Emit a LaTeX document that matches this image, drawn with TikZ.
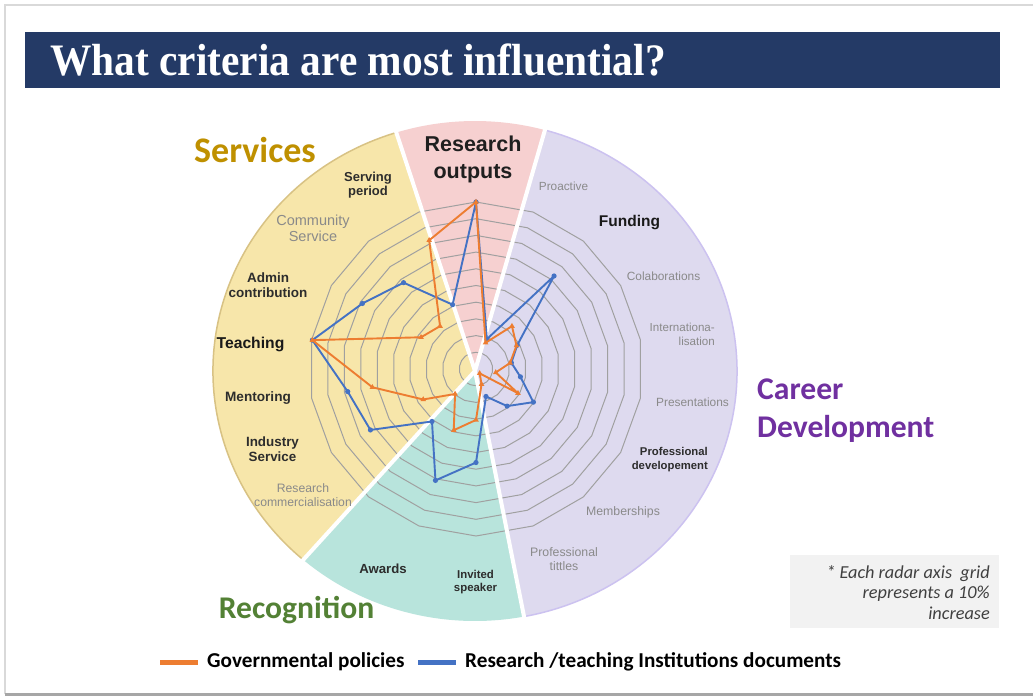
\documentclass[tikz,border=0pt]{standalone}
\usepackage{fontspec}
\usepackage{graphicx}
\usetikzlibrary{shapes.geometric}
\newfontfamily\labf{Liberation Sans}
\newfontfamily\calf{Carlito}
\newfontfamily\serf{Liberation Serif}
\definecolor{navy}{RGB}{36,58,102}
\definecolor{yelf}{RGB}{247,230,170}
\definecolor{yelo}{RGB}{216,194,132}
\definecolor{pinkf}{RGB}{246,208,208}
\definecolor{purf}{RGB}{222,218,239}
\definecolor{puro}{RGB}{204,194,240}
\definecolor{grnf}{RGB}{184,228,220}
\definecolor{gridc}{RGB}{160,160,160}
\definecolor{orc}{RGB}{237,125,49}
\definecolor{blc}{RGB}{68,114,196}
\definecolor{labdark}{RGB}{45,45,45}
\definecolor{labgrey}{RGB}{138,138,138}
\definecolor{gold}{RGB}{191,144,0}
\definecolor{cpurple}{RGB}{112,48,160}
\definecolor{cgreen}{RGB}{83,129,53}
\definecolor{notebg}{RGB}{242,242,242}
\definecolor{notetx}{RGB}{64,64,64}
\newcommand{\fsz}[2]{\fontsize{#1}{#2}\selectfont}
\begin{document}
\begin{tikzpicture}[x=1pt,y=-1pt,
  lb/.style={inner sep=0, align=center, text=labdark},
  lg/.style={inner sep=0, align=center, text=labgrey},
  sect/.style={inner sep=0, align=left, font=\calf\bfseries\fsz{31.6}{38}},
  gridl/.style={draw=gridc, line width=1},
  oline/.style={draw=orc, line width=1.9, line join=round},
  bline/.style={draw=blc, line width=1.9, line join=round},
  omark/.style={regular polygon, regular polygon sides=3, fill=orc, inner sep=0, minimum size=6.5},
  bmark/.style={circle, fill=blc, inner sep=0, minimum size=5.2},
  sep/.style={draw=white, line width=4},
]
\useasboundingbox (0,0) rectangle (1033,698);
\fill[white] (0,0) rectangle (1033,698);
% slide frame
\draw[gray!30, line width=1.2] (5,694) -- (5,5) -- (1033,5);
\draw[gray!70, line width=3] (5,694.5) -- (1033,694.5);
% title
\node[fill=navy, minimum width=975, minimum height=56, inner sep=0] (bar) at (512.5,60) {};
\node[anchor=base west, inner sep=0, text=white, font=\serf\bfseries\fsz{45}{45}] (title) at (50,76)
  {\scalebox{0.92}[1]{What criteria are most influential?}};
% sectors
\begin{scope}[shift={(475,371)}, yscale=-1]
  \fill[yelf] (0,0) -- (107.5:262 and 250) arc[start angle=107.5, end angle=229, x radius=262, y radius=250] -- cycle;
  \draw[yelo, line width=1.5] (107.5:262 and 250) arc[start angle=107.5, end angle=229, x radius=262, y radius=250];
  \fill[pinkf] (0,0) -- (74.5:262 and 250) arc[start angle=74.5, end angle=107.5, x radius=262, y radius=250] -- cycle;
  \fill[grnf] (0,0) -- (229:262 and 250) arc[start angle=229, end angle=280.8, x radius=262, y radius=250] -- cycle;
  \fill[purf] (0,0) -- (-79.2:262 and 250) arc[start angle=-79.2, end angle=74.5, x radius=262, y radius=250] -- cycle;
  \draw[puro, line width=1.5] (-79.2:262 and 250) arc[start angle=-79.2, end angle=74.5, x radius=262, y radius=250];
\end{scope}
% radar grid
\begin{scope}[shift={(476,369)}, yscale=-1]
  \foreach \k in {1,...,10} {
    \draw[gridl] (90:{\k*16.7}) \foreach \j in {1,...,17} { -- ({90-20*\j}:{\k*16.7}) } -- cycle;
  }
\end{scope}
% white separators
\begin{scope}[shift={(475,371)}, yscale=-1]
  \coordinate (sc) at (0,0);
  \coordinate (s1) at (107.5:270 and 258);
  \coordinate (s2) at (74.5:270 and 258);
  \coordinate (s3) at (-79.2:270 and 258);
  \coordinate (s4) at (229:270 and 258);
  \foreach \s in {s1,s2,s3,s4} \draw[sep] (sc) -- (\s);
\end{scope}
% data
\begin{scope}[shift={(476,369)}, yscale=-1]
  \foreach \v [count=\i from 0] in {10,1.9,7.27,2.85,2.15,2.7,3.97,2.9,1.75,5.6,7.1,4.1,7.3,7.8,9.95,7.85,6.75,4.1}
    \coordinate (b\i) at ({90-20*\i}:{\v*16.7});
  \foreach \v [count=\i from 0] in {10,1.67,3.35,2.8,2.07,1.2,2.9,0.34,0.97,3.05,3.9,1.95,3.65,6.3,9.95,3.8,3.35,8.2}
    \coordinate (o\i) at ({90-20*\i}:{\v*16.7});
  \draw[bline] (b0) \foreach \i in {1,...,17} { -- (b\i) } -- cycle;
  \foreach \i in {0,...,17} \node[bmark] (bm\i) at (b\i) {};
  \draw[oline] (o0) \foreach \i in {1,...,17} { -- (o\i) } -- cycle;
  \foreach \i in {0,...,17} \node[omark] (om\i) at (o\i) {};
\end{scope}
% axis labels
\node[inner sep=0, align=center, text=black!88, font=\labf\bfseries\fsz{21.5}{27}] (lres) at (473,159) {Research\\outputs};
\node[lb, font=\labf\bfseries\fsz{13}{14}] (lserv) at (368,185) {Serving\\period};
\node[lg, font=\labf\fsz{14.5}{16}] (lcomm) at (313,228) {Community\\Service};
\node[lb, font=\labf\bfseries\fsz{13.5}{15}] (ladmin) at (268,285.5) {Admin\\contribution};
\node[lb, text=black!90, font=\labf\bfseries\fsz{15.7}{18}] (lteach) at (250.5,344) {Teaching};
\node[lb, font=\labf\bfseries\fsz{13.6}{15}] (lment) at (258,398) {Mentoring};
\node[lb, font=\labf\bfseries\fsz{13.4}{15}] (lind) at (272.5,449.5) {Industry\\Service};
\node[lg, font=\labf\fsz{12.2}{14}] (lrc) at (303,495) {Research\\commercialisation};
\node[lb, font=\labf\bfseries\fsz{13.2}{15}] (lawd) at (383,569) {Awards};
\node[lb, font=\labf\bfseries\fsz{11.4}{13}] (linv) at (475.5,582.5) {Invited\\speaker};
\node[lg, font=\labf\fsz{12.3}{14}] (lpt) at (564,559) {Professional\\tittles};
\node[lg, font=\labf\fsz{12.3}{14}] (lmem) at (623,512) {Memberships};
\node[lb, align=right, anchor=east, font=\labf\bfseries\fsz{11.3}{14}] (lpd) at (708,460) {Professional\\developement};
\node[lg, font=\labf\fsz{11.9}{14}] (lpres) at (692.5,402) {Presentations};
\node[lg, align=right, anchor=east, font=\labf\fsz{11.6}{14}] (lint) at (715,334) {Internationa-\\lisation};
\node[lg, font=\labf\fsz{11.9}{14}] (lcol) at (663.5,276) {Colaborations};
\node[lb, text=black!90, font=\labf\bfseries\fsz{15.5}{18}] (lfund) at (629.5,223) {Funding};
\node[lg, font=\labf\fsz{11.8}{14}] (lpro) at (563.5,186) {Proactive};
% section labels
\node[sect, text=gold, font=\calf\bfseries\fsz{36}{40}] (cserv) at (255,150) {Services};
\node[sect, text=cpurple, anchor=west] (ccar) at (757,411) {Career\\Development};
\node[sect, text=cgreen] (crec) at (296.5,610) {Recognition};
% legend
\coordinate (lo1) at (160,662); \coordinate (lo2) at (198,662);
\coordinate (lb1) at (418,662); \coordinate (lb2) at (456,662);
\draw[orc, line width=5] (lo1) -- (lo2);
\draw[blc, line width=5] (lb1) -- (lb2);
\node[anchor=west, inner sep=0, font=\calf\bfseries\fsz{21.2}{25}] (lgov) at (207,662) {Governmental policies};
\node[anchor=west, inner sep=0, font=\calf\bfseries\fsz{21.2}{25}] (linst) at (465,662) {Research /teaching Institutions documents};
% note
\node[fill=notebg, minimum width=209, minimum height=73, inner sep=0] (nbox) at (894.5,591.5) {};
\node[anchor=east, align=right, inner sep=0, text=notetx, font=\calf\itshape\fsz{18.3}{20.5}] (ntext) at (990,592.5)
  {* Each radar axis\ \ grid\\represents a 10\%\\increase};
\end{tikzpicture}
\end{document}
